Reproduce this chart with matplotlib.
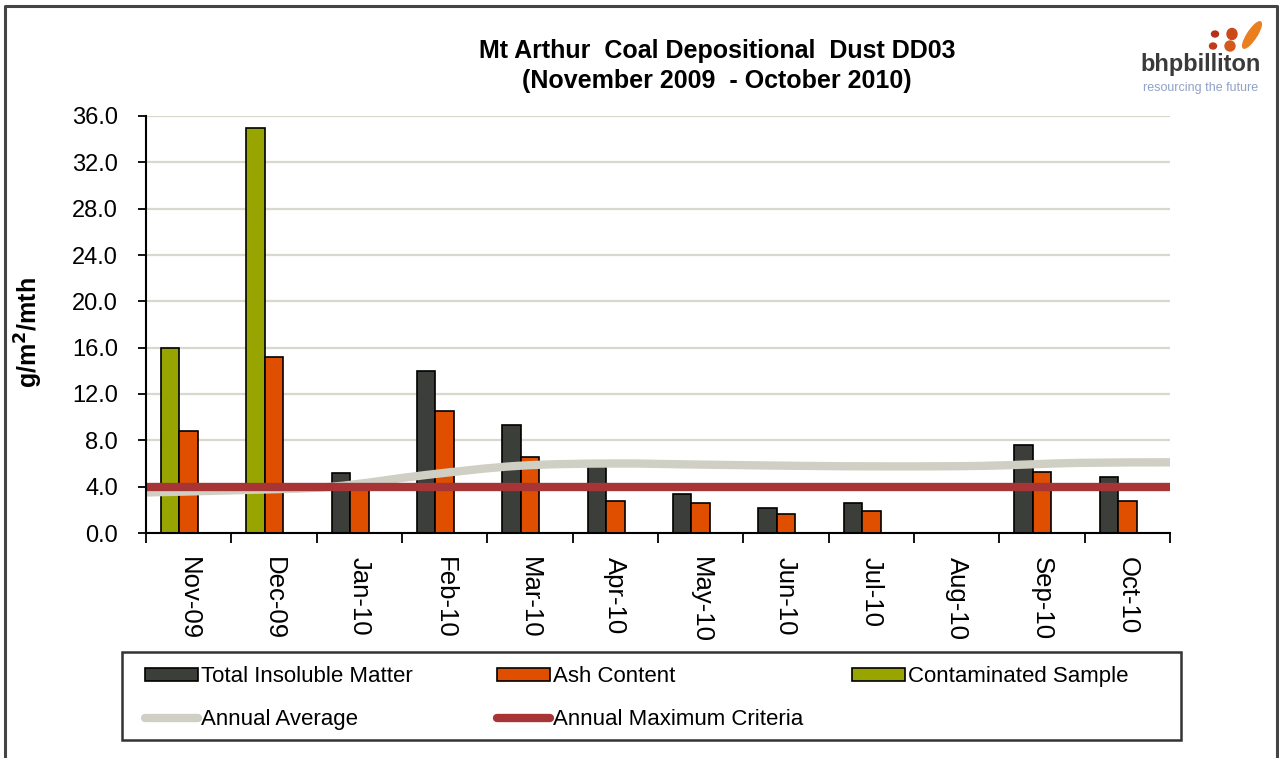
import numpy as np
import matplotlib
matplotlib.use("Agg")
import matplotlib.pyplot as plt
from matplotlib.path import Path
from matplotlib.patches import PathPatch, Patch, Rectangle, Ellipse
from matplotlib.lines import Line2D

plt.rcParams['font.family'] = ['Liberation Sans', 'DejaVu Sans']

months = ["Nov-09", "Dec-09", "Jan-10", "Feb-10", "Mar-10", "Apr-10",
          "May-10", "Jun-10", "Jul-10", "Aug-10", "Sep-10", "Oct-10"]
total_insoluble = [np.nan, np.nan, 5.2, 14.0, 9.3, 5.9, 3.4, 2.2, 2.6, np.nan, 7.6, 4.8]
ash_content = [8.8, 15.2, 3.9, 10.5, 6.6, 2.8, 2.6, 1.6, 1.9, np.nan, 5.3, 2.8]
contaminated = [16.0, 35.0, np.nan, np.nan, np.nan, np.nan, np.nan, np.nan, np.nan, np.nan, np.nan, np.nan]
annual_average = [3.5, 3.7, 4.0, 5.0, 5.8, 6.0, 5.9, 5.8, 5.75, 5.8, 6.05, 6.1]
max_criteria = 4.0
y_ticks = [0, 4, 8, 12, 16, 20, 24, 28, 32, 36]

W, H = 1279, 758
DARK = "#3c3e3a"
ORANGE = "#e04f00"
GREEN = "#98a400"
AVG_GREY = "#cfcfc3"
CRIT_RED = "#a83535"


def fx(px):
    return px / W


def fy(py):
    return 1 - py / H


def smooth_path(xs, ys):
    # Catmull-Rom style bezier through the points (like Excel's smoothed line)
    pts = np.column_stack([xs, ys])
    n = len(pts)
    verts = [pts[0]]
    codes = [Path.MOVETO]
    for i in range(n - 1):
        p0 = pts[max(i - 1, 0)]
        p1 = pts[i]
        p2 = pts[i + 1]
        p3 = pts[min(i + 2, n - 1)]
        verts += [p1 + (p2 - p0) / 6, p2 - (p3 - p1) / 6, p2]
        codes += [Path.CURVE4] * 3
    return Path(verts, codes)


fig = plt.figure(figsize=(W / 100, H / 100), dpi=100)
ax = fig.add_axes([fx(146), fy(533), fx(1170) - fx(146), fy(116) - fy(533)])

x = np.arange(len(months))
bw = 0.217
ax.bar(x - bw, total_insoluble, bw, color=DARK, edgecolor="black", linewidth=1.2, zorder=3)
ax.bar(x - bw, contaminated, bw, color=GREEN, edgecolor="black", linewidth=1.2, zorder=3)
ax.bar(x, ash_content, bw, color=ORANGE, edgecolor="black", linewidth=1.2, zorder=3)

# annual average spans edge to edge like a secondary-axis line
avg_x = np.linspace(-0.5, len(months) - 0.5, len(annual_average))
ax.add_patch(PathPatch(smooth_path(avg_x, annual_average), fill=False,
                       edgecolor=AVG_GREY, linewidth=6, capstyle="butt", zorder=4))
ax.plot([-0.5, len(months) - 0.5], [max_criteria, max_criteria],
        color=CRIT_RED, linewidth=6, solid_capstyle="butt", zorder=5)

ax.set_xlim(-0.5, len(months) - 0.5)
ax.set_ylim(0, 36)
ax.set_yticks(y_ticks)
ax.set_yticklabels([f"{v:.1f}" for v in y_ticks])
ax.set_xticks(np.arange(len(months) + 1) - 0.5)
ax.set_xticklabels([])
ax.set_xticks(x, minor=True)
ax.set_xticklabels(months, minor=True, rotation=-90, fontsize=18.5)
ax.tick_params(axis="x", which="major", length=7, width=1.3, direction="out")
ax.tick_params(axis="x", which="minor", length=0, pad=17)
ax.tick_params(axis="y", length=6, width=1.3, direction="out", pad=14, labelsize=17)

ax.grid(axis="y", color="#d8d8cc", linewidth=1.6, zorder=0)
ax.set_axisbelow(True)
for s in ["top", "right"]:
    ax.spines[s].set_visible(False)
for s in ["left", "bottom"]:
    ax.spines[s].set_linewidth(1.5)
    ax.spines[s].set_zorder(6)

ax.set_ylabel("g/m$^\\mathbf{2}$/mth", fontsize=18, fontweight="bold")
ax.yaxis.set_label_coords((45 - 146) / 1024, 0.48)

fig.text(fx(717), fy(66), "Mt Arthur  Coal Depositional  Dust DD03\n(November 2009  - October 2010)",
         ha="center", va="center", fontsize=18, fontweight="bold", linespacing=1.3)

# legend box and three columns
fig.patches.append(Rectangle((fx(122), fy(740)), fx(1181) - fx(122), fy(652) - fy(740),
                             transform=fig.transFigure, fill=False, edgecolor="#333333",
                             linewidth=1.8, figure=fig))
bar_kw = dict(edgecolor="black", linewidth=1.2)
col1 = [Patch(facecolor=DARK, **bar_kw),
        Line2D([], [], color=AVG_GREY, linewidth=6, solid_capstyle="round")]
col2 = [Patch(facecolor=ORANGE, **bar_kw),
        Line2D([], [], color=CRIT_RED, linewidth=6, solid_capstyle="round")]
col3 = [Patch(facecolor=GREEN, **bar_kw)]
leg_kw = dict(frameon=False, fontsize=16, handlelength=2.4, handleheight=0.55,
              handletextpad=0.12, labelspacing=1.0, borderpad=0, loc="upper left")
fig.legend(col1, ["Total Insoluble Matter", "Annual Average"],
           bbox_to_anchor=(fx(134), fy(655)), **leg_kw)
fig.legend(col2, ["Ash Content", "Annual Maximum Criteria"],
           bbox_to_anchor=(fx(486), fy(655)), **leg_kw)
fig.legend(col3, ["Contaminated Sample"],
           bbox_to_anchor=(fx(841), fy(655)), **leg_kw)

# outer frame (left, top, right)
fig.lines.append(Line2D([fx(5), fx(5), fx(1277), fx(1277)], [0, fy(6), fy(6), 0],
                        transform=fig.transFigure, color="#444444", linewidth=2.2))

# bhp billiton logo
fig.text(fx(1201), fy(64), "bhpbilliton", ha="center", va="center",
         fontsize=17, fontweight="bold", color="#3a3a3a")
fig.text(fx(1201), fy(88), "resourcing the future", ha="center", va="center",
         fontsize=9, color="#8fa2c8")
blobs = [(1215, 34, 7, 6, 0, "#b5301c"), (1213, 46, 7, 6, 0, "#c03a1a"),
         (1232, 34, 10, 11, 0, "#cc4a1a"), (1230, 46, 10, 10, 0, "#d45a1c"),
         (1252, 35, 10, 28, -20, "#ea7f20")]
for bx, by, bwid, bht, ang, col in blobs:
    e = Ellipse((fx(bx), fy(by)), fx(bwid), bht / H, angle=ang,
                transform=fig.transFigure, color=col, figure=fig)
    fig.patches.append(e)

fig.savefig("out.png", dpi=100)
